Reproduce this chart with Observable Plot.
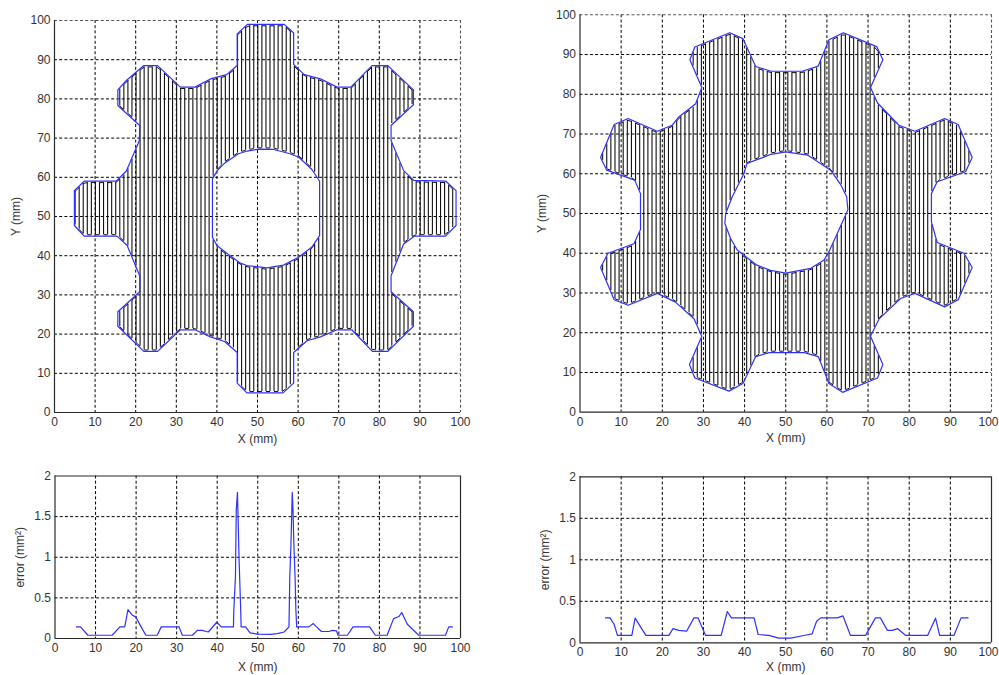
<!DOCTYPE html>
<html>
<head>
<meta charset="utf-8">
<script src="https://cdn.jsdelivr.net/npm/d3@7"></script>
<script src="https://cdn.jsdelivr.net/npm/@observablehq/plot@0.6"></script>
<style>
html,body{margin:0;padding:0;background:#fff;overflow:hidden;width:999px;height:675px}
#fig{position:relative;width:999px;height:675px;overflow:hidden}
#fig svg{position:absolute;background:transparent;max-width:none;height:auto}
</style>
</head>
<body>
<div id="fig"></div>
<script>
// ---- values (mm) ----
const ticks10 = [0,10,20,30,40,50,60,70,80,90,100];
const errTicks = [0,0.5,1,1.5,2];

const leftOuter = [[4.9,56.6],[7.3,59],[15.2,59],[17.7,61.6],[20.9,69.4],[21,73.2],[15.6,78.3],[15.6,82.3],[17.7,84.7],[22,88.5],[25.4,88.5],[31,83],[34.6,83],[38.4,85.1],[42.4,86.2],[45,88.5],[45,96.6],[47.5,99],[56.6,99],[58.9,96.8],[58.9,88.8],[61.5,86.2],[65.5,85.1],[69.6,83],[73,83],[78.2,88.5],[82.1,88.5],[88.4,82.3],[88.4,78.5],[82.9,73.2],[82.9,69.4],[86,61.7],[88.5,59.2],[96.4,59],[98.9,56.6],[98.9,47.7],[96.3,45],[88.7,45],[86,43],[82.9,34.9],[82.9,30.8],[88.4,25.7],[88.4,22],[82.1,15.6],[78.3,15.6],[73.2,21.1],[69.6,21.1],[65.5,19.3],[62.2,18.3],[58.9,15.3],[58.9,7.5],[56.3,5],[47.4,5],[45,7.5],[45,15.3],[41.9,18.1],[38.4,19.3],[34.6,21.1],[31,21.1],[25.4,15.6],[22,15.6],[15.6,22],[15.6,25.7],[21,30.8],[21,34.8],[17.9,42.6],[15.4,45],[7.3,45],[4.9,47.7],[4.9,56.6]];
const leftHole = [[38.9,59.6],[40.1,61.7],[41.9,63.6],[45.3,66],[47.5,66.7],[50.4,67.2],[54,67.1],[58,66],[60.2,65.1],[63.4,62],[65.3,59],[65.3,45.1],[63.4,42.2],[60.1,39.6],[56.4,37.6],[52.3,36.9],[47.4,37.5],[45.8,38.1],[42.6,40.5],[40,42.6],[38.9,44.7],[38.9,59.6]];
const rightOuter = [[5,64.1],[8.3,72.4],[11.7,73.9],[18.8,70.7],[22.4,72.2],[24,74.3],[28.1,77.6],[29.6,81.7],[26.7,88.7],[27.9,91.9],[36.4,95.5],[39.6,94],[42.7,87],[46.4,85.8],[54,85.8],[57.9,87.1],[60.5,93.7],[64,95.5],[72.1,92],[73.6,88.7],[70.6,81.7],[72.3,77.8],[77.5,72.2],[81.4,70.7],[88.6,73.9],[91.9,72.4],[95.3,64.1],[93.7,60.5],[86.8,58],[85.4,55],[85.4,47.9],[86.8,42.7],[93.3,40],[95.3,36.4],[91.9,28.3],[88.6,26.5],[81.4,29.9],[77.9,28.6],[72.7,23.5],[70.6,19.1],[73.6,12],[72.3,8.6],[63.8,5],[60.5,7.2],[57.9,14],[54.5,15],[46,15],[42.7,14],[39.6,7.2],[36.2,5.3],[27.9,8.6],[26.6,12],[29.6,19.1],[27.7,23.5],[23.2,27.7],[18.8,29.9],[11.7,26.9],[8.3,28.3],[5,36.4],[6.8,40],[13.1,42.4],[14.7,46],[14.7,55],[13.3,58.4],[6.5,60.9],[5,64.1]];
const rightHole = [[35.4,50],[35.2,47.5],[36.6,43.7],[38.2,40.8],[43,37],[46.3,35.7],[50,35],[56.1,36.2],[59.3,38.3],[60.5,40.4],[64.8,50.2],[65.1,51],[64.8,54.2],[63.4,57.2],[60.9,60.9],[55.3,64.7],[50,65.5],[46.4,64.9],[44.7,64.2],[40.6,62.6],[39.8,60],[37,54.2],[35.4,50]];

const leftErr = [[5.3,.143],[6.3,.143],[8.1,.04],[14.1,.04],[16,.143],[17.2,.143],[18,.356],[19.1,.286],[19.9,.266],[21.1,.155],[22.4,.04],[25.2,.04],[26.2,.143],[30.6,.143],[31.4,.04],[33.9,.04],[35.1,.1],[36.3,.1],[37.8,.08],[38.5,.12],[39.9,.2],[41,.143],[44,.143],[44.1,.35],[44.5,.76],[44.6,1.17],[44.7,1.58],[45,1.8],[45.1,1.58],[45.4,.96],[45.8,.35],[45.9,.143],[47,.143],[48.1,.07],[49.9,.053],[53.2,.05],[54.8,.06],[56.5,.08],[57.7,.143],[57.9,.76],[58.2,1.17],[58.4,1.58],[58.5,1.8],[58.7,1.58],[58.9,1.17],[59.2,.76],[59.4,.35],[59.6,.143],[62.6,.143],[63.7,.184],[64.5,.143],[65.7,.086],[67.5,.086],[68.4,.1],[69.4,.095],[69.8,.04],[72.1,.04],[73.5,.143],[77.6,.143],[79,.04],[81.9,.04],[83.5,.245],[84.8,.27],[85.5,.32],[86.9,.176],[89.7,.04],[96.3,.04],[97.1,.143],[98,.143]];
const rightErr = [[6.2,.3],[7.3,.3],[8.3,.22],[9.1,.09],[12.6,.09],[13.4,.297],[16,.09],[21.6,.09],[22.6,.17],[24,.15],[25.9,.14],[27.7,.3],[28.7,.3],[30.5,.09],[34.3,.09],[35.8,.377],[36.8,.3],[42.3,.3],[43.3,.1],[45.9,.09],[48.3,.056],[51.2,.056],[54.4,.088],[56.4,.108],[57.5,.26],[58.5,.3],[62.5,.3],[63.9,.325],[65.7,.09],[69.4,.09],[71.8,.3],[73,.3],[74.7,.15],[75.9,.15],[77.2,.17],[79.1,.09],[84.5,.09],[86.4,.297],[87.4,.09],[90.9,.09],[92.6,.3],[94.3,.3]];

const leftPasses = {start: 5, end: 98, phase: 0.08};
const rightPasses = {start: 5, end: 95, phase: 0.5};

// ---- shared look ----
const BLUE = "#3030fa", INK = "#2a2a2a";
const font = {fontFamily: "'Liberation Sans', Arial, sans-serif", fontSize: "12px", color: "#333", background: "transparent"};

// Raster-pass hatch: every pass line spans the inside of the read outline at its x.
function passes(outer, hole, cfg) {
  const rows = [], caps = [];
  let prev = null;
  for (let k = cfg.start; k <= cfg.end; k++) {
    const x = k + cfg.phase;
    const ys = [];
    for (const poly of [outer, hole])
      for (let i = 0; i + 1 < poly.length; i++) {
        const [x0, y0] = poly[i], [x1, y1] = poly[i + 1];
        if ((x0 <= x) !== (x1 <= x)) ys.push(y0 + (y1 - y0) * (x - x0) / (x1 - x0));
      }
    ys.sort((a, b) => a - b);
    const spans = [];
    for (let i = 0; i + 1 < ys.length; i += 2) {
      const a = ys[i] + 0.35, b = ys[i + 1] - 0.35;
      if (b > a) { spans.push([a, b]); rows.push({x, y1: a, y2: b}); }
    }
    if (prev) for (const s of spans) for (const p of prev) {
      if (Math.min(s[1], p[1]) <= Math.max(s[0], p[0])) continue;
      const useTop = k % 2 === 0;
      const ya = useTop ? p[1] : p[0], yb = useTop ? s[1] : s[0];
      if (Math.abs(ya - yb) < 1.3) caps.push({x1: x - 1, x2: x, y1: ya, y2: yb});
    }
    prev = spans;
  }
  return {rows, caps};
}

function panel({left, top, width, height, mt, mr, mb, ml, yDomain, yTicks, xLabel, yLabel, yLabelOffset, xLabelOffset, marks, solidBox, pullLastTick}) {
  const innerY = yTicks.slice(1, -1), innerX = ticks10.slice(1, -1);
  const dash = "3,2.2";
  const lastTick = ticks10.slice(-1), otherTicks = ticks10.slice(0, -1);
  const plot = Plot.plot({
    width, height, marginTop: mt, marginRight: mr, marginBottom: mb, marginLeft: ml,
    style: font,
    x: {domain: [0, 100]},
    y: {domain: yDomain},
    marks: [
      Plot.gridX(innerX, {stroke: "#000", strokeOpacity: 1, strokeDasharray: dash, strokeWidth: 1}),
      Plot.gridY(innerY, {stroke: "#000", strokeOpacity: 1, strokeDasharray: dash, strokeWidth: 1}),
      solidBox ? Plot.ruleX([100], {stroke: INK, strokeWidth: 1.2}) : Plot.ruleX([100], {stroke: "#555", strokeWidth: 1.1, strokeDasharray: dash}),
      solidBox ? Plot.ruleY([yDomain[1]], {stroke: INK, strokeWidth: 1.2}) : Plot.ruleY([yDomain[1]], {stroke: "#555", strokeWidth: 1.1, strokeDasharray: dash}),
      ...marks,
      Plot.ruleX([0], {stroke: INK, strokeWidth: 1.2}),
      Plot.ruleY([0], {stroke: INK, strokeWidth: 1.2}),
      Plot.axisX({ticks: otherTicks, tickSize: 0, tickPadding: 5, tickFormat: d => String(d), label: xLabel, labelAnchor: "center", labelArrow: "none", labelOffset: xLabelOffset}),
      Plot.axisX({ticks: lastTick, tickSize: 0, tickPadding: 5, tickFormat: d => String(d), label: null, dx: pullLastTick || 0}),
      Plot.axisY({ticks: yTicks, tickSize: 0, tickPadding: 4, tickFormat: d => String(d), label: yLabel, labelAnchor: "center", labelArrow: "none", labelOffset: yLabelOffset})
    ]
  });
  plot.style.left = left + "px";
  plot.style.top = top + "px";
  document.getElementById("fig").appendChild(plot);
}

function gearMarks(outer, hole, cfg) {
  const {rows, caps} = passes(outer, hole, cfg);
  const outline = [...outer.map(p => ({x: p[0], y: p[1], part: "outer"})), ...hole.map(p => ({x: p[0], y: p[1], part: "hole"}))];
  return [
    Plot.ruleX(rows, {x: "x", y1: "y1", y2: "y2", stroke: "#111", strokeWidth: 1.1}),
    Plot.link(caps, {x1: "x1", x2: "x2", y1: "y1", y2: "y2", stroke: "#111", strokeWidth: 1}),
    Plot.line(outline, {x: "x", y: "y", z: "part", stroke: BLUE, strokeWidth: 1.2, curve: "linear"})
  ];
}
function errMarks(err) {
  return [Plot.line(err.map(p => ({x: p[0], y: p[1]})), {x: "x", y: "y", stroke: BLUE, strokeWidth: 1.2})];
}

panel({left: 0, top: 0, width: 480, height: 450, mt: 20, mr: 20, mb: 38, ml: 54, yDomain: [0, 100], yTicks: ticks10,
  xLabel: "X (mm)", yLabel: "Y (mm)", xLabelOffset: 30, yLabelOffset: 43, marks: gearMarks(leftOuter, leftHole, leftPasses)});
panel({left: 525, top: 0, width: 474, height: 450, mt: 14.3, mr: 8, mb: 38.3, ml: 54.5, yDomain: [0, 100], yTicks: ticks10, pullLastTick: -3,
  xLabel: "X (mm)", yLabel: "Y (mm)", xLabelOffset: 30, yLabelOffset: 43, marks: gearMarks(rightOuter, rightHole, rightPasses)});
panel({left: 0, top: 460, width: 480, height: 215, mt: 15.5, mr: 20, mb: 37, ml: 54.5, yDomain: [0, 2], yTicks: errTicks,
  xLabel: "X (mm)", yLabel: "error (mm²)", xLabelOffset: 32, yLabelOffset: 40, marks: errMarks(leftErr), solidBox: true});
panel({left: 525, top: 460, width: 474, height: 215, mt: 16.3, mr: 8, mb: 32.7, ml: 54.5, yDomain: [0, 2], yTicks: errTicks, pullLastTick: -3,
  xLabel: "X (mm)", yLabel: "error (mm²)", xLabelOffset: 28.5, yLabelOffset: 40, marks: errMarks(rightErr), solidBox: true});
</script>
</body>
</html>
